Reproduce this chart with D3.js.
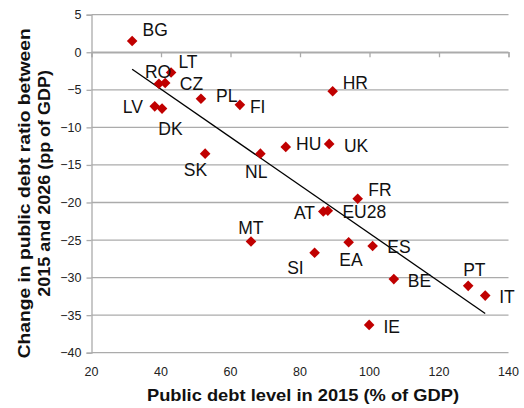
<!DOCTYPE html>
<html><head><meta charset="utf-8">
<script src="https://cdn.jsdelivr.net/npm/d3@7"></script>
<style>body{margin:0;background:#fff}svg{display:block}</style>
</head><body>
<svg id="c" width="524" height="408"></svg>
<script>
const countries = ["BG","LT","RO","CZ","PL","FI","LV","DK","SK","NL","HU","UK","HR","FR","AT","EU28","ES","EA","SI","BE","PT","IT","IE","MT"];
const debt2015  = [31.7,42.9,39.4,41.2,51.5,62.7,38.2,40.3,52.7,68.6,75.9,88.4,89.4,96.6,86.7,88.0,100.9,94.0,84.2,107.0,128.4,133.3,99.9,65.9];
const change    = [1.5,-2.7,-4.2,-4.1,-6.2,-7.0,-7.2,-7.5,-13.5,-13.5,-12.6,-12.2,-5.2,-19.5,-21.2,-21.1,-25.8,-25.3,-26.7,-30.2,-31.1,-32.4,-36.3,-25.2];
const xTicks = [20,40,60,80,100,120,140];
const yTicks = [5,0,-5,-10,-15,-20,-25,-30,-35,-40];

// label placement (pixel offsets from marker, text start / baseline)
const labelOffset = {
  BG:[10.4,-5], LT:[7.3,-4.4], RO:[-14,-6], CZ:[14.7,7.3], PL:[15,2.7], FI:[10,7.7],
  LV:[-32,6.7], DK:[-3.7,26.7], SK:[-21.3,22], NL:[-15.3,24.6], HU:[10.3,3.4], UK:[14.7,7.7],
  HR:[10,-2], FR:[10.6,-2.7], AT:[-29.3,7.6], EU28:[14.6,7.6], ES:[14.6,7], EA:[-9.4,24],
  SI:[-27.4,21.3], BE:[14,7.7], PT:[-5,-10], IT:[14,7], IE:[14.3,7.7], MT:[-12.7,-7.3]
};

const svg = d3.select("#c");
const x = d3.scaleLinear().domain([20,140]).range([91.5,508.5]);
const y = d3.scaleLinear().domain([-40,5]).range([352.7,14.7]);
const grid = "#ababab";
const font = "Liberation Sans, Arial, sans-serif";

// gridlines
svg.append("g").selectAll("line").data(yTicks).join("line")
  .attr("x1", x(20)).attr("x2", x(140))
  .attr("y1", d=>y(d)).attr("y2", d=>y(d))
  .attr("stroke", grid).attr("stroke-width", 1.3);

// y axis
const ya = svg.append("g").attr("transform", `translate(${x(20)},0)`)
  .call(d3.axisLeft(y).tickValues(yTicks).tickSize(5).tickPadding(5).tickFormat(d3.format("d")));
ya.select(".domain").attr("stroke", grid).attr("stroke-width",1.3);
ya.selectAll(".tick line").attr("stroke", grid).attr("stroke-width",1.3);
ya.selectAll("text").attr("font-family",font).attr("font-size",12.5).attr("fill","#222");

// x axis crossing at y=0 (ticks only), labels at bottom
const xa = svg.append("g").attr("transform", `translate(0,${y(0)})`)
  .call(d3.axisBottom(x).tickValues(xTicks).tickSize(5).tickFormat(""));
xa.select(".domain").attr("stroke", grid).attr("stroke-width",1.3);
xa.selectAll(".tick line").attr("stroke", grid).attr("stroke-width",1.3);

svg.append("g").selectAll("text").data(xTicks).join("text")
  .attr("x", d=>x(d)).attr("y", 376)
  .attr("text-anchor","middle")
  .attr("font-family",font).attr("font-size",12.5).attr("fill","#222")
  .text(d=>d);

// trend line (least squares)
const n = debt2015.length;
const mx = d3.mean(debt2015), my = d3.mean(change);
let sxy=0, sxx=0;
for (let i=0;i<n;i++){ sxy+=(debt2015[i]-mx)*(change[i]-my); sxx+=(debt2015[i]-mx)**2; }
const b = sxy/sxx, a = my - b*mx;
const [x0,x1] = d3.extent(debt2015);
svg.append("line")
  .attr("x1", x(x0)).attr("y1", y(a+b*x0))
  .attr("x2", x(x1)).attr("y2", y(a+b*x1))
  .attr("stroke","#000").attr("stroke-width",1.3);

// markers
const pts = countries.map((c,i)=>({c, x:debt2015[i], y:change[i]}));
svg.append("g").selectAll("path").data(pts).join("path")
  .attr("transform", d=>`translate(${x(d.x)},${y(d.y)})`)
  .attr("d","M0,-5.3L5.3,0L0,5.3L-5.3,0Z")
  .attr("fill","#C00000");

// labels
svg.append("g").selectAll("text").data(pts).join("text")
  .attr("x", d=>x(d.x)+labelOffset[d.c][0])
  .attr("y", d=>y(d.y)+labelOffset[d.c][1])
  .attr("font-family",font).attr("font-size",17.5).attr("fill","#111")
  .text(d=>d.c);

// axis titles
svg.append("text").attr("x", 147).attr("y", 400.7)
  .attr("textLength", 312).attr("lengthAdjust","spacingAndGlyphs")
  .attr("font-family",font).attr("font-size",16.3).attr("font-weight","bold").attr("fill","#111")
  .text("Public debt level in 2015 (% of GDP)");
const yfont = {family:font};
svg.append("text").attr("transform","translate(30,358.3) rotate(-90)")
  .attr("textLength", 330).attr("lengthAdjust","spacingAndGlyphs")
  .attr("font-family",font).attr("font-size",16).attr("font-weight","bold").attr("fill","#111")
  .text("Change in public debt ratio between");
svg.append("text").attr("transform","translate(50,296.7) rotate(-90)")
  .attr("textLength", 226.7).attr("lengthAdjust","spacingAndGlyphs")
  .attr("font-family",font).attr("font-size",16).attr("font-weight","bold").attr("fill","#111")
  .text("2015 and 2026 (pp of GDP)");
</script>
</body></html>
